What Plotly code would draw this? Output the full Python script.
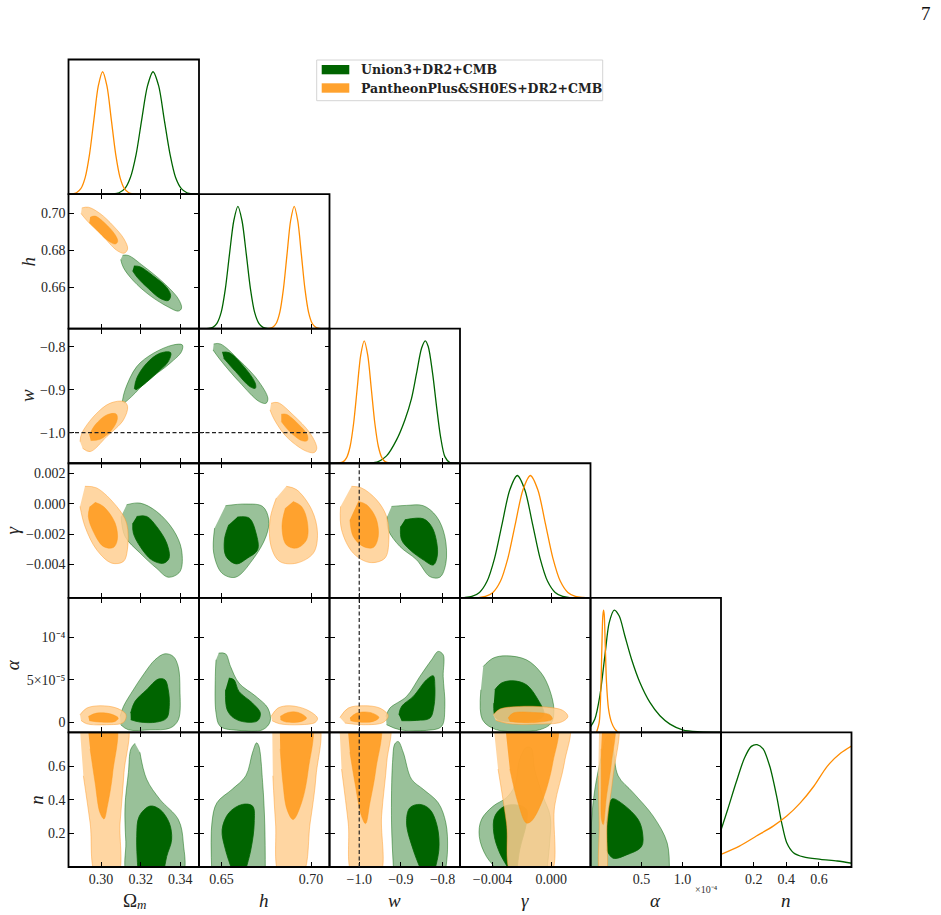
import plotly.graph_objects as go

FIG_W, FIG_H = 941, 915
GRID_L, GRID_R, GRID_T, GRID_B = 68.5, 851.5, 59.5, 867.0

PARAMS = ["Om", "h", "w", "gamma", "alpha", "n"]
X_LABELS = ["Ω", "<i>h</i>", "<i>w</i>", "<i>γ</i>", "<i>α</i>", "<i>n</i>"]
Y_LABELS = ["", "<i>h</i>", "<i>w</i>", "<i>γ</i>", "<i>α</i>", "<i>n</i>"]
SERIES = ["Union3+DR2+CMB", "PantheonPlus&SH0ES+DR2+CMB"]

RANGES = {"Om": [0.2836, 0.3494], "h": [0.6375, 0.7103], "w": [-1.0713, -0.7583],
          "gamma": [-0.00621, 0.00267], "alpha": [-0.122, 1.468], "n": [0.0, 0.8]}
TICKS_X = {"Om": [0.30, 0.32, 0.34], "h": [0.65, 0.70], "w": [-1.0, -0.9, -0.8],
           "gamma": [-0.004, 0.0], "alpha": [0.5, 1.0], "n": [0.2, 0.4, 0.6]}
TICKTEXT_X = {"Om": ["0.30", "0.32", "0.34"], "h": ["0.65", "0.70"], "w": ["−1.0", "−0.9", "−0.8"],
              "gamma": ["−0.004", "0.000"], "alpha": ["0.5", "1.0"], "n": ["0.2", "0.4", "0.6"]}
TICKS_Y = {"h": [0.66, 0.68, 0.70], "w": [-1.0, -0.9, -0.8], "gamma": [-0.004, -0.002, 0.0, 0.002],
           "alpha": [0.0, 0.5, 1.0], "n": [0.2, 0.4, 0.6]}
TICKTEXT_Y = {"h": ["0.66", "0.68", "0.70"], "w": ["−1.0", "−0.9", "−0.8"],
              "gamma": ["−0.004", "−0.002", "0.000", "0.002"],
              "alpha": ["0", "5×10⁻⁵", "10⁻⁴"], "n": ["0.2", "0.4", "0.6"]}
W_REF = -1.0  # w = -1 reference (LCDM)

# ---------------- 1D marginals (x, normalized density); alpha in units of 1e-4 ----------------
Om_green_1d = [(0.3010, 0.0), (0.3062, 0.002), (0.3091, 0.011), (0.3120, 0.044), (0.3148, 0.135), (0.3177, 0.325),
               (0.3205, 0.607), (0.3234, 0.882), (0.3262, 1.0), (0.3291, 0.882), (0.3319, 0.607), (0.3348, 0.325),
               (0.3376, 0.135), (0.3405, 0.044), (0.3433, 0.011), (0.3462, 0.002), (0.3494, 0.0)]
Om_orange_1d = [(0.2836, 0.0), (0.2854, 0.002), (0.2876, 0.011), (0.2898, 0.044), (0.2920, 0.135), (0.2942, 0.325),
                (0.2964, 0.607), (0.2986, 0.882), (0.3008, 1.0), (0.3030, 0.882), (0.3052, 0.607), (0.3074, 0.325),
                (0.3096, 0.135), (0.3118, 0.044), (0.3140, 0.011), (0.3162, 0.002), (0.3185, 0.0)]
h_green_1d = [(0.6400, 0.0), (0.6429, 0.002), (0.6452, 0.011), (0.6475, 0.044), (0.6499, 0.135), (0.6522, 0.325),
              (0.6545, 0.607), (0.6569, 0.882), (0.6592, 1.0), (0.6615, 0.882), (0.6639, 0.607), (0.6662, 0.325),
              (0.6685, 0.135), (0.6709, 0.044), (0.6732, 0.011), (0.6755, 0.002), (0.6785, 0.0)]
h_orange_1d = [(0.6745, 0.0), (0.6766, 0.002), (0.6786, 0.011), (0.6806, 0.044), (0.6826, 0.135), (0.6846, 0.325),
               (0.6866, 0.607), (0.6886, 0.882), (0.6906, 1.0), (0.6926, 0.882), (0.6946, 0.607), (0.6966, 0.325),
               (0.6986, 0.135), (0.7006, 0.044), (0.7026, 0.011), (0.7046, 0.002), (0.7070, 0.0)]
w_green_1d = [(-0.9744, 0.0), (-0.9544, 0.014), (-0.9345, 0.060), (-0.9105, 0.191), (-0.8905, 0.354),
              (-0.8745, 0.531), (-0.8625, 0.736), (-0.8505, 0.940), (-0.8417, 1.0), (-0.8345, 0.954),
              (-0.8241, 0.736), (-0.8145, 0.463), (-0.8050, 0.218), (-0.7946, 0.054), (-0.7826, 0.005),
              (-0.7666, 0.0)]
w_orange_1d = [(-1.0560, 0.0), (-1.0475, 0.002), (-1.0390, 0.011), (-1.0305, 0.044), (-1.0220, 0.135),
               (-1.0135, 0.325), (-1.0050, 0.607), (-0.9965, 0.882), (-0.9880, 1.0), (-0.9795, 0.882),
               (-0.9710, 0.607), (-0.9625, 0.325), (-0.9540, 0.135), (-0.9455, 0.044), (-0.9370, 0.011),
               (-0.9285, 0.002), (-0.9200, 0.0)]
gamma_green_1d = [(-0.00621, 0.0), (-0.005915, 0.002), (-0.00540, 0.011), (-0.004885, 0.044), (-0.00437, 0.135),
                  (-0.003855, 0.325), (-0.00334, 0.607), (-0.002825, 0.882), (-0.00231, 1.0), (-0.001795, 0.882),
                  (-0.00128, 0.607), (-0.000765, 0.325), (-0.00025, 0.135), (0.000265, 0.044), (0.00078, 0.011),
                  (0.001295, 0.002), (0.00180, 0.0)]
gamma_orange_1d = [(-0.00550, 0.0), (-0.00499, 0.002), (-0.00448, 0.011), (-0.00397, 0.044), (-0.00346, 0.135),
                   (-0.00295, 0.325), (-0.00244, 0.607), (-0.00193, 0.882), (-0.00142, 1.0), (-0.00091, 0.882),
                   (-0.00040, 0.607), (0.00011, 0.325), (0.00062, 0.135), (0.00113, 0.044), (0.00164, 0.012),
                   (0.00215, 0.003), (0.00267, 0.0)]
alpha_green_1d = [(-0.122, 0.046), (-0.069, 0.109), (-0.008, 0.299), (0.053, 0.625), (0.106, 0.897), (0.167, 1.0),
                  (0.228, 0.951), (0.297, 0.788), (0.378, 0.598), (0.480, 0.408), (0.602, 0.245), (0.724, 0.136),
                  (0.846, 0.068), (1.008, 0.019), (1.211, 0.005), (1.455, 0.0)]
alpha_orange_1d = [(-0.049, 0.0), (-0.016, 0.082), (0.004, 0.353), (0.016, 0.679), (0.028, 0.951), (0.037, 1.0),
                   (0.045, 0.965), (0.057, 0.734), (0.073, 0.408), (0.098, 0.190), (0.134, 0.082), (0.175, 0.027),
                   (0.215, 0.0)]
n_green_1d = [(0.0, 0.302), (0.041, 0.470), (0.092, 0.688), (0.144, 0.891), (0.186, 0.986), (0.221, 1.0),
              (0.258, 0.965), (0.299, 0.823), (0.341, 0.579), (0.372, 0.361), (0.403, 0.198), (0.444, 0.117),
              (0.506, 0.082), (0.610, 0.063), (0.713, 0.049), (0.807, 0.030)]
n_orange_1d = [(0.0, 0.103), (0.113, 0.171), (0.217, 0.253), (0.320, 0.334), (0.403, 0.416), (0.486, 0.524),
               (0.569, 0.660), (0.651, 0.823), (0.734, 0.932), (0.807, 0.995)]

# ---------------- 2D contours (68% and 95%), (x, y) vertices ----------------
h_Om_green_95 = [(0.3109, 0.6772), (0.3138, 0.6771), (0.3213, 0.6714), (0.3314, 0.6625), (0.3390, 0.6536),
                 (0.3406, 0.6486), (0.3390, 0.6470), (0.3339, 0.6492), (0.3247, 0.6554), (0.3163, 0.6634),
                 (0.3113, 0.6705), (0.3099, 0.6749)]
h_Om_green_68 = [(0.3166, 0.6714), (0.3196, 0.6710), (0.3264, 0.6660), (0.3331, 0.6598), (0.3351, 0.6554),
                 (0.3339, 0.6527), (0.3297, 0.6540), (0.3238, 0.6593), (0.3183, 0.6652), (0.3159, 0.6688)]
h_Om_orange_95 = [(0.2903, 0.7028), (0.2936, 0.7032), (0.2995, 0.6998), (0.3062, 0.6931), (0.3116, 0.6860),
                  (0.3134, 0.6806), (0.3116, 0.6783), (0.3079, 0.6799), (0.3003, 0.6883), (0.2931, 0.6957),
                  (0.2899, 0.6998)]
h_Om_orange_68 = [(0.2945, 0.6977), (0.2970, 0.6984), (0.3020, 0.6945), (0.3071, 0.6883), (0.3084, 0.6847),
                  (0.3071, 0.6833), (0.3029, 0.6856), (0.2978, 0.6909), (0.2941, 0.6948)]

w_Om_green_95 = [(0.3107, -0.9279), (0.3121, -0.9008), (0.3180, -0.8465), (0.3264, -0.8155), (0.3364, -0.7961),
                 (0.3410, -0.7961), (0.3406, -0.8116), (0.3348, -0.8388), (0.3230, -0.8814), (0.3154, -0.9163),
                 (0.3116, -0.9318)]
w_Om_green_68 = [(0.3168, -0.8984), (0.3180, -0.8736), (0.3230, -0.8388), (0.3297, -0.8155), (0.3351, -0.8140),
                 (0.3339, -0.8349), (0.3280, -0.8620), (0.3213, -0.8891), (0.3176, -0.9008)]
w_Om_orange_95 = [(0.2894, -1.0209), (0.2903, -1.0016), (0.2970, -0.9589), (0.3045, -0.9318), (0.3116, -0.9279),
                  (0.3134, -0.9395), (0.3113, -0.9705), (0.3029, -1.0093), (0.2945, -1.0442), (0.2907, -1.0364)]
w_Om_orange_68 = [(0.2941, -1.0054), (0.2970, -0.9822), (0.3029, -0.9589), (0.3076, -0.9566), (0.3082, -0.9690),
                  (0.3054, -0.9938), (0.2995, -1.0155), (0.2948, -1.0186)]

w_h_green_95 = [(0.6457, -0.7938), (0.6494, -0.7938), (0.6598, -0.8310), (0.6702, -0.8775), (0.6759, -0.9202),
                (0.6749, -0.9318), (0.6711, -0.9279), (0.6598, -0.8814), (0.6494, -0.8310), (0.6453, -0.8078)]
w_h_green_68 = [(0.6504, -0.8132), (0.6542, -0.8140), (0.6617, -0.8426), (0.6689, -0.8853), (0.6689, -0.8969),
                (0.6659, -0.8930), (0.6579, -0.8581), (0.6513, -0.8271)]
w_h_orange_95 = [(0.6777, -0.9318), (0.6815, -0.9302), (0.6900, -0.9589), (0.6995, -1.0016), (0.7032, -1.0364),
                 (0.7017, -1.0465), (0.6966, -1.0419), (0.6862, -1.0093), (0.6796, -0.9705), (0.6771, -0.9473)]
w_h_orange_68 = [(0.6834, -0.9574), (0.6862, -0.9574), (0.6928, -0.9798), (0.6979, -1.0054), (0.6979, -1.0186),
                 (0.6947, -1.0186), (0.6881, -0.9977), (0.6834, -0.9744)]

g_Om_green_95 = [(0.3129, -0.00007), (0.3197, 0.00004), (0.3280, -0.00051), (0.3364, -0.00172), (0.3406, -0.00304),
                 (0.3398, -0.00448), (0.3339, -0.00485), (0.3280, -0.00426), (0.3197, -0.00326), (0.3121, -0.00216),
                 (0.3101, -0.00084)]
g_Om_green_68 = [(0.3180, -0.00084), (0.3230, -0.00084), (0.3280, -0.00150), (0.3331, -0.00260), (0.3343, -0.00359),
                 (0.3314, -0.00393), (0.3255, -0.00370), (0.3197, -0.00282), (0.3163, -0.00194), (0.3160, -0.00128)]
g_Om_orange_95 = [(0.2919, 0.00115), (0.2978, 0.00104), (0.3079, -0.00018), (0.3129, -0.00128), (0.3133, -0.00304),
                  (0.3113, -0.00381), (0.3054, -0.00392), (0.2978, -0.00304), (0.2919, -0.00150), (0.2894, -0.00018)]
g_Om_orange_68 = [(0.2970, 0.00009), (0.3012, -0.00018), (0.3071, -0.00128), (0.3082, -0.00238), (0.3062, -0.00289),
                  (0.3012, -0.00282), (0.2961, -0.00183), (0.2936, -0.00084), (0.2944, -0.00018)]

g_h_green_95 = [(0.6523, -0.00013), (0.6636, -0.00002), (0.6730, -0.00018), (0.6764, -0.00106), (0.6749, -0.00216),
                (0.6674, -0.00370), (0.6579, -0.00485), (0.6504, -0.00459), (0.6457, -0.00326), (0.6462, -0.00161)]
g_h_green_68 = [(0.6589, -0.00088), (0.6655, -0.00095), (0.6693, -0.00194), (0.6702, -0.00304), (0.6645, -0.00359),
                (0.6583, -0.00397), (0.6526, -0.00348), (0.6517, -0.00238), (0.6541, -0.00139)]
g_h_orange_95 = [(0.6862, 0.00115), (0.6919, 0.00093), (0.7004, -0.00040), (0.7036, -0.00194), (0.7013, -0.00326),
                 (0.6919, -0.00392), (0.6825, -0.00381), (0.6777, -0.00282), (0.6771, -0.00106), (0.6806, 0.00037)]
g_h_orange_68 = [(0.6900, 0.00015), (0.6947, -0.00018), (0.6979, -0.00117), (0.6975, -0.00238), (0.6919, -0.00293),
                 (0.6862, -0.00271), (0.6838, -0.00150), (0.6857, -0.00029)]

g_w_green_95 = [(-0.9225, -0.00018), (-0.8865, -0.00011), (-0.8465, -0.00013), (-0.8146, -0.00084), (-0.7946, -0.00216),
                (-0.7922, -0.00393), (-0.8066, -0.00485), (-0.8305, -0.00481), (-0.8625, -0.00370), (-0.9025, -0.00282),
                (-0.9305, -0.00172), (-0.9329, -0.00084)]
g_w_green_68 = [(-0.8905, -0.00106), (-0.8465, -0.00099), (-0.8265, -0.00150), (-0.8146, -0.00249), (-0.8130, -0.00348),
                (-0.8225, -0.00404), (-0.8465, -0.00370), (-0.8785, -0.00304), (-0.8985, -0.00238), (-0.9009, -0.00150)]
g_w_orange_95 = [(-1.0184, 0.00115), (-0.9944, 0.00104), (-0.9584, 0.00026), (-0.9345, -0.00084), (-0.9289, -0.00238),
                 (-0.9384, -0.00359), (-0.9744, -0.00388), (-1.0144, -0.00326), (-1.0424, -0.00172), (-1.0448, -0.00018)]
g_w_orange_68 = [(-1.0024, 0.00015), (-0.9824, -0.00007), (-0.9600, -0.00095), (-0.9544, -0.00216), (-0.9664, -0.00289),
                 (-0.9904, -0.00282), (-1.0144, -0.00216), (-1.0224, -0.00106)]

a_Om_green_95 = [(0.3096, 0.067), (0.3113, 0.185), (0.3163, 0.382), (0.3213, 0.559), (0.3272, 0.736), (0.3322, 0.807),
                 (0.3364, 0.776), (0.3389, 0.657), (0.3398, 0.382), (0.3390, 0.028), (0.3348, -0.071), (0.3247, -0.091),
                 (0.3138, -0.091), (0.3099, -0.031)]
a_Om_green_68 = [(0.3149, 0.106), (0.3171, 0.244), (0.3230, 0.382), (0.3289, 0.508), (0.3322, 0.500), (0.3339, 0.382),
                 (0.3344, 0.185), (0.3331, 0.047), (0.3280, 0.000), (0.3197, 0.000), (0.3150, 0.028)]
a_Om_orange_95 = [(0.2894, 0.087), (0.2928, 0.165), (0.2995, 0.193), (0.3079, 0.165), (0.3126, 0.087), (0.3113, -0.004),
                  (0.3029, -0.031), (0.2928, -0.020), (0.2899, 0.020)]
a_Om_orange_68 = [(0.2936, 0.067), (0.2978, 0.106), (0.3045, 0.098), (0.3087, 0.047), (0.3071, 0.008), (0.2995, 0.000),
                  (0.2941, 0.016)]

a_h_green_95 = [(0.6485, 0.815), (0.6523, 0.807), (0.6551, 0.657), (0.6598, 0.461), (0.6693, 0.303), (0.6759, 0.165),
                (0.6772, 0.008), (0.6730, -0.091), (0.6598, -0.098), (0.6494, -0.051), (0.6470, 0.106), (0.6466, 0.539),
                (0.6470, 0.736)]
a_h_green_68 = [(0.6542, 0.520), (0.6570, 0.500), (0.6598, 0.362), (0.6674, 0.224), (0.6717, 0.106), (0.6702, 0.016),
                (0.6636, 0.000), (0.6570, 0.047), (0.6532, 0.146), (0.6523, 0.382)]
a_h_orange_95 = [(0.6777, 0.067), (0.6815, 0.165), (0.6881, 0.193), (0.6976, 0.146), (0.7036, 0.047), (0.7023, -0.004),
                 (0.6938, -0.031), (0.6825, -0.020), (0.6783, 0.016)]
a_h_orange_68 = [(0.6828, 0.067), (0.6872, 0.114), (0.6928, 0.114), (0.6975, 0.047), (0.6947, 0.008), (0.6862, 0.000),
                 (0.6830, 0.028)]

a_w_green_95 = [(-0.9361, 0.067), (-0.9265, 0.165), (-0.8865, 0.303), (-0.8545, 0.539), (-0.8265, 0.736),
                (-0.8106, 0.835), (-0.7986, 0.795), (-0.7986, 0.539), (-0.7946, 0.185), (-0.8026, -0.051),
                (-0.8385, -0.098), (-0.9025, -0.091), (-0.9345, -0.031)]
a_w_green_68 = [(-0.9049, 0.087), (-0.8985, 0.185), (-0.8705, 0.303), (-0.8385, 0.500), (-0.8225, 0.547),
                (-0.8186, 0.421), (-0.8209, 0.185), (-0.8305, 0.047), (-0.8625, 0.020), (-0.8985, 0.016)]
a_w_orange_95 = [(-1.0464, 0.055), (-1.0264, 0.165), (-0.9904, 0.193), (-0.9504, 0.165), (-0.9305, 0.075),
                 (-0.9424, -0.004), (-0.9904, -0.031), (-1.0344, -0.012)]
a_w_orange_68 = [(-1.0224, 0.047), (-1.0064, 0.106), (-0.9744, 0.114), (-0.9528, 0.055), (-0.9664, 0.008),
                 (-1.0024, 0.000), (-1.0208, 0.016)]

a_g_green_95 = [(-0.00463, 0.657), (-0.00395, 0.756), (-0.00305, 0.783), (-0.00169, 0.736), (-0.00068, 0.579),
                (-0.00011, 0.382), (0.00018, 0.146), (0.00000, -0.012), (-0.00079, -0.091), (-0.00215, -0.110),
                (-0.00373, -0.091), (-0.00468, 0.028), (-0.00479, 0.382)]
a_g_green_68 = [(-0.00384, 0.382), (-0.00339, 0.461), (-0.00260, 0.488), (-0.00169, 0.441), (-0.00090, 0.264),
                (-0.00050, 0.106), (-0.00068, 0.047), (-0.00305, 0.008), (-0.00377, 0.047), (-0.00391, 0.224)]
a_g_orange_95 = [(-0.00395, 0.087), (-0.00350, 0.154), (-0.00215, 0.185), (-0.00034, 0.177), (0.00079, 0.138),
                 (0.00113, 0.067), (0.00068, 0.000), (-0.00102, -0.024), (-0.00282, -0.020), (-0.00377, 0.020)]
a_g_orange_68 = [(-0.00294, 0.047), (-0.00260, 0.106), (-0.00124, 0.114), (-0.00011, 0.087), (0.00007, 0.035),
                 (-0.00079, 0.000), (-0.00215, -0.004), (-0.00282, 0.008)]

n_Om_green_95 = [(0.3171, 0.735), (0.3150, 0.700), (0.3138, 0.562), (0.3121, 0.362), (0.3125, 0.150), (0.3138, -0.05),
                 (0.3406, -0.05), (0.3415, 0.142), (0.3390, 0.282), (0.3297, 0.402), (0.3230, 0.522), (0.3196, 0.682)]
n_Om_green_68 = [(0.3188, -0.05), (0.3180, 0.182), (0.3193, 0.302), (0.3247, 0.362), (0.3297, 0.342), (0.3344, 0.262),
                 (0.3356, 0.162), (0.3331, 0.062), (0.3314, -0.05)]
n_Om_orange_95 = [(0.2891, 0.86), (0.3126, 0.86), (0.3116, 0.562), (0.3096, 0.262), (0.3082, -0.05), (0.2978, -0.05),
                  (0.2945, 0.262), (0.2911, 0.542)]
n_Om_orange_68 = [(0.2931, 0.86), (0.3071, 0.86), (0.3059, 0.562), (0.3032, 0.362), (0.3015, 0.286), (0.2995, 0.322),
                  (0.2970, 0.502), (0.2945, 0.702)]

n_h_green_95 = [(0.6447, -0.05), (0.6447, 0.262), (0.6475, 0.382), (0.6560, 0.462), (0.6636, 0.542), (0.6674, 0.682),
                (0.6696, 0.738), (0.6708, 0.722), (0.6730, 0.502), (0.6742, 0.250), (0.6745, -0.05)]
n_h_green_68 = [(0.6570, -0.05), (0.6523, 0.102), (0.6504, 0.222), (0.6542, 0.322), (0.6617, 0.372), (0.6674, 0.362),
                (0.6683, 0.262), (0.6664, 0.102), (0.6626, -0.05)]
n_h_orange_95 = [(0.6783, 0.86), (0.7036, 0.86), (0.7028, 0.542), (0.6995, 0.262), (0.6947, -0.05), (0.6828, -0.05),
                 (0.6802, 0.262), (0.6787, 0.542)]
n_h_orange_68 = [(0.6825, 0.86), (0.6998, 0.86), (0.6985, 0.582), (0.6947, 0.382), (0.6900, 0.282), (0.6866, 0.342),
                 (0.6843, 0.502), (0.6828, 0.702)]

n_w_green_95 = [(-0.9169, -0.05), (-0.9225, 0.262), (-0.9201, 0.622), (-0.9145, 0.732), (-0.9065, 0.746),
                (-0.8945, 0.682), (-0.8745, 0.522), (-0.8465, 0.462), (-0.8106, 0.382), (-0.7922, 0.262),
                (-0.7882, 0.102), (-0.7946, -0.05)]
n_w_green_68 = [(-0.8465, -0.05), (-0.8705, 0.102), (-0.8865, 0.262), (-0.8785, 0.352), (-0.8545, 0.372),
                (-0.8305, 0.342), (-0.8130, 0.242), (-0.8090, 0.102), (-0.8225, -0.05)]
n_w_orange_95 = [(-1.0480, 0.86), (-0.9300, 0.86), (-0.9340, 0.622), (-0.9464, 0.302), (-0.9520, -0.05),
                 (-1.0144, -0.05), (-1.0264, 0.262), (-1.0424, 0.582)]
n_w_orange_68 = [(-1.0288, 0.86), (-0.9520, 0.86), (-0.9600, 0.582), (-0.9744, 0.382), (-0.9848, 0.258),
                 (-0.9944, 0.302), (-1.0104, 0.502), (-1.0224, 0.682)]

n_g_green_95 = [(-0.00328, -0.05), (-0.00441, 0.062), (-0.00490, 0.182), (-0.00475, 0.282), (-0.00395, 0.362),
                (-0.00305, 0.412), (-0.00249, 0.482), (-0.00215, 0.642), (-0.00169, 0.712), (-0.00136, 0.706),
                (-0.00113, 0.582), (-0.00057, 0.422), (-0.00007, 0.302), (-0.00011, 0.142), (-0.00034, -0.05)]
n_g_green_68 = [(-0.00260, -0.05), (-0.00350, 0.082), (-0.00391, 0.202), (-0.00384, 0.302), (-0.00316, 0.362),
                (-0.00215, 0.366), (-0.00169, 0.342), (-0.00169, 0.262), (-0.00215, 0.102), (-0.00237, -0.05)]
n_g_orange_95 = [(-0.00395, 0.86), (0.00113, 0.86), (0.00090, 0.622), (0.00023, 0.362), (-0.00011, -0.05),
                 (-0.00264, -0.05), (-0.00305, 0.262), (-0.00362, 0.582)]
n_g_orange_68 = [(-0.00316, 0.86), (0.00034, 0.86), (0.00011, 0.622), (-0.00057, 0.402), (-0.00136, 0.272),
                 (-0.00170, 0.262), (-0.00226, 0.382), (-0.00282, 0.582)]

n_a_green_95 = [(-0.110, -0.05), (-0.110, 0.262), (-0.069, 0.462), (0.012, 0.662), (0.073, 0.772), (0.106, 0.782),
                (0.154, 0.702), (0.215, 0.542), (0.398, 0.442), (0.642, 0.302), (0.813, 0.142), (0.837, -0.05)]
n_a_green_68 = [(0.073, 0.262), (0.114, 0.382), (0.146, 0.406), (0.276, 0.372), (0.459, 0.282), (0.512, 0.202),
                (0.500, 0.122), (0.317, 0.072), (0.154, 0.052), (0.073, 0.102)]
n_a_orange_95 = [(-0.016, 0.86), (0.203, 0.86), (0.154, 0.542), (0.081, 0.262), (0.061, -0.05), (0.000, -0.05),
                 (-0.016, 0.262), (-0.028, 0.542)]
n_a_orange_68 = [(0.024, 0.86), (0.163, 0.86), (0.134, 0.622), (0.073, 0.422), (0.033, 0.252), (0.012, 0.282),
                 (0.008, 0.502), (0.008, 0.702)]

MARGINALS = {0: (Om_green_1d, Om_orange_1d), 1: (h_green_1d, h_orange_1d), 2: (w_green_1d, w_orange_1d),
             3: (gamma_green_1d, gamma_orange_1d), 4: (alpha_green_1d, alpha_orange_1d), 5: (n_green_1d, n_orange_1d)}
CONTOURS = {
    (1, 0): (h_Om_green_95, h_Om_green_68, h_Om_orange_95, h_Om_orange_68),
    (2, 0): (w_Om_green_95, w_Om_green_68, w_Om_orange_95, w_Om_orange_68),
    (2, 1): (w_h_green_95, w_h_green_68, w_h_orange_95, w_h_orange_68),
    (3, 0): (g_Om_green_95, g_Om_green_68, g_Om_orange_95, g_Om_orange_68),
    (3, 1): (g_h_green_95, g_h_green_68, g_h_orange_95, g_h_orange_68),
    (3, 2): (g_w_green_95, g_w_green_68, g_w_orange_95, g_w_orange_68),
    (4, 0): (a_Om_green_95, a_Om_green_68, a_Om_orange_95, a_Om_orange_68),
    (4, 1): (a_h_green_95, a_h_green_68, a_h_orange_95, a_h_orange_68),
    (4, 2): (a_w_green_95, a_w_green_68, a_w_orange_95, a_w_orange_68),
    (4, 3): (a_g_green_95, a_g_green_68, a_g_orange_95, a_g_orange_68),
    (5, 0): (n_Om_green_95, n_Om_green_68, n_Om_orange_95, n_Om_orange_68),
    (5, 1): (n_h_green_95, n_h_green_68, n_h_orange_95, n_h_orange_68),
    (5, 2): (n_w_green_95, n_w_green_68, n_w_orange_95, n_w_orange_68),
    (5, 3): (n_g_green_95, n_g_green_68, n_g_orange_95, n_g_orange_68),
    (5, 4): (n_a_green_95, n_a_green_68, n_a_orange_95, n_a_orange_68),
}

# ---------------- styles ----------------
GREEN = "rgb(0,100,0)"
GREEN_LIGHT = "rgb(153,193,153)"
GREEN_EDGE = "rgba(0,100,0,0.45)"
ORANGE_LINE = "rgb(255,140,0)"
ORANGE_OUT = "rgba(255,207,146,0.85)"
ORANGE_IN = "rgba(255,153,26,0.85)"
ORANGE_EDGE = "rgba(255,150,30,0.45)"
LEGEND_GREEN = "rgb(0,100,0)"
LEGEND_ORANGE = "rgb(255,162,46)"
FONT = "Liberation Serif"
TICK_FONT = dict(family=FONT, size=14, color="#262626")
FRAME_W = 1.8


def px_x(p):
    return p / FIG_W


def px_y(p):
    return 1 - p / FIG_H


cw = (GRID_R - GRID_L) / 6
rh = (GRID_B - GRID_T) / 6

fig = go.Figure()
layout = {}
axis_ids = {}
shapes = []
panels = [(r, c) for r in range(6) for c in range(r + 1)]
for k, (r, c) in enumerate(panels, start=1):
    sfx = "" if k == 1 else str(k)
    axis_ids[(r, c)] = ("x" + sfx, "y" + sfx)
    px_name, py_name = PARAMS[c], PARAMS[r]
    diag = r == c
    x0, x1 = GRID_L + c * cw, GRID_L + (c + 1) * cw
    y0, y1 = GRID_T + r * rh, GRID_T + (r + 1) * rh
    xa = dict(domain=[px_x(x0), px_x(x1)], anchor="y" + sfx,
              range=RANGES[px_name], showgrid=False, zeroline=False, showline=False,
              mirror=False if diag else "ticks", ticks="inside", ticklen=5, tickwidth=1,
              tickcolor="black", tickmode="array", tickvals=TICKS_X[px_name], ticktext=TICKTEXT_X[px_name],
              showticklabels=(r == 5), tickfont=TICK_FONT, ticklabelstandoff=2)
    if diag:
        ya = dict(domain=[px_y(y1), px_y(y0)], anchor="x" + sfx,
                  range=[0, 1.1], showgrid=False, zeroline=False, showline=False, ticks="", showticklabels=False)
    else:
        ya = dict(domain=[px_y(y1), px_y(y0)], anchor="x" + sfx,
                  range=RANGES[py_name], showgrid=False, zeroline=False, showline=False,
                  mirror="ticks", ticks="inside", ticklen=5, tickwidth=1, tickcolor="black",
                  tickmode="array", tickvals=TICKS_Y[py_name], ticktext=TICKTEXT_Y[py_name],
                  showticklabels=(c == 0), tickfont=TICK_FONT, ticklabelstandoff=2)
    layout["xaxis" + sfx] = xa
    layout["yaxis" + sfx] = ya
    shapes.append(dict(type="rect", xref="paper", yref="paper", x0=px_x(x0), x1=px_x(x1), y0=px_y(y1),
                       y1=px_y(y0), line=dict(color="black", width=FRAME_W), fillcolor="rgba(0,0,0,0)",
                       layer="above"))


def poly(points, xid, yid, fill, line_color, line_width):
    fig.add_trace(go.Scatter(x=[p[0] for p in points], y=[p[1] for p in points], xaxis=xid, yaxis=yid,
                             mode="lines", fill="toself", fillcolor=fill,
                             line=dict(color=line_color, width=line_width, shape="spline", smoothing=1.0),
                             hoverinfo="skip", showlegend=False))


for (r, c), (g95, g68, o95, o68) in CONTOURS.items():
    xid, yid = axis_ids[(r, c)]
    poly(g95, xid, yid, GREEN_LIGHT, GREEN_EDGE, 1)
    poly(g68, xid, yid, GREEN, GREEN, 0.8)
    poly(o95, xid, yid, ORANGE_OUT, ORANGE_EDGE, 1)
    poly(o68, xid, yid, ORANGE_IN, "rgba(255,153,26,0.6)", 0.8)

for i, (g1d, o1d) in MARGINALS.items():
    xid, yid = axis_ids[(i, i)]
    for pts, col in ((g1d, GREEN), (o1d, ORANGE_LINE)):
        fig.add_trace(go.Scatter(x=[p[0] for p in pts], y=[p[1] for p in pts], xaxis=xid, yaxis=yid,
                                 mode="lines", line=dict(color=col, width=1.3, shape="spline", smoothing=0.8),
                                 hoverinfo="skip", showlegend=False))

# w = -1 reference lines
for c in (0, 1):
    xid, yid = axis_ids[(2, c)]
    shapes.append(dict(type="line", xref=xid + " domain", x0=0, x1=1, yref=yid, y0=W_REF, y1=W_REF,
                       line=dict(color="#222", width=1.2, dash="4px,2.5px")))
for r in (3, 4, 5):
    xid, yid = axis_ids[(r, 2)]
    shapes.append(dict(type="line", xref=xid, x0=W_REF, x1=W_REF, yref=yid + " domain", y0=0, y1=1,
                       line=dict(color="#222", width=1.2, dash="4px,2.5px")))

# legend (drawn manually to match the reference box)
shapes.append(dict(type="rect", xref="paper", yref="paper", x0=px_x(316.7), x1=px_x(602.7),
                   y0=px_y(100.7), y1=px_y(60.0), line=dict(color="#d4d4d4", width=1), fillcolor="white"))
shapes.append(dict(type="rect", xref="paper", yref="paper", x0=px_x(321.7), x1=px_x(349.3),
                   y0=px_y(74.3), y1=px_y(65.0), line=dict(width=0), fillcolor=LEGEND_GREEN))
shapes.append(dict(type="rect", xref="paper", yref="paper", x0=px_x(321.7), x1=px_x(349.3),
                   y0=px_y(92.7), y1=px_y(83.3), line=dict(width=0), fillcolor=LEGEND_ORANGE))

annotations = []
for txt, yc in ((SERIES[0], 70.0), (SERIES[1], 88.3)):
    annotations.append(dict(text="<b>" + txt + "</b>", xref="paper", yref="paper", x=px_x(359), y=px_y(yc),
                            xanchor="left", yanchor="middle", showarrow=False,
                            font=dict(family="DejaVu Serif", size=12.5, color="#222")))

for c in range(6):
    xc = GRID_L + (c + 0.5) * cw
    if c == 0:
        xc -= 4
    annotations.append(dict(text=X_LABELS[c], xref="paper", yref="paper", x=px_x(xc),
                            y=px_y(900), xanchor="center", yanchor="middle", showarrow=False,
                            font=dict(family=FONT, size=19, color="#222")))
# subscript m of Omega_m
annotations.append(dict(text="<i>m</i>", xref="paper", yref="paper", x=px_x(GRID_L + 0.5 * cw + 1.5),
                        y=px_y(904), xanchor="left", yanchor="middle", showarrow=False,
                        font=dict(family=FONT, size=13, color="#222")))
Y_TITLE_X = [0, 28, 28, 13, 12, 37]
for r in range(1, 6):
    annotations.append(dict(text=Y_LABELS[r], xref="paper", yref="paper", x=px_x(Y_TITLE_X[r]),
                            y=px_y(GRID_T + (r + 0.5) * rh), xanchor="center", yanchor="middle",
                            textangle=-90, showarrow=False, font=dict(family=FONT, size=19, color="#222")))
annotations.append(dict(text="×10⁻⁴", xref="paper", yref="paper", x=px_x(706), y=px_y(889),
                        xanchor="center", yanchor="middle", showarrow=False,
                        font=dict(family=FONT, size=10, color="#333")))
annotations.append(dict(text="7", xref="paper", yref="paper", x=px_x(926), y=px_y(14), xanchor="center",
                        yanchor="middle", showarrow=False, font=dict(family=FONT, size=19, color="#111")))

fig.update_layout(width=FIG_W, height=FIG_H, margin=dict(l=0, r=0, t=0, b=0), paper_bgcolor="white",
                  plot_bgcolor="white", showlegend=False, shapes=shapes, annotations=annotations, **layout)
fig.write_html("out.html")
